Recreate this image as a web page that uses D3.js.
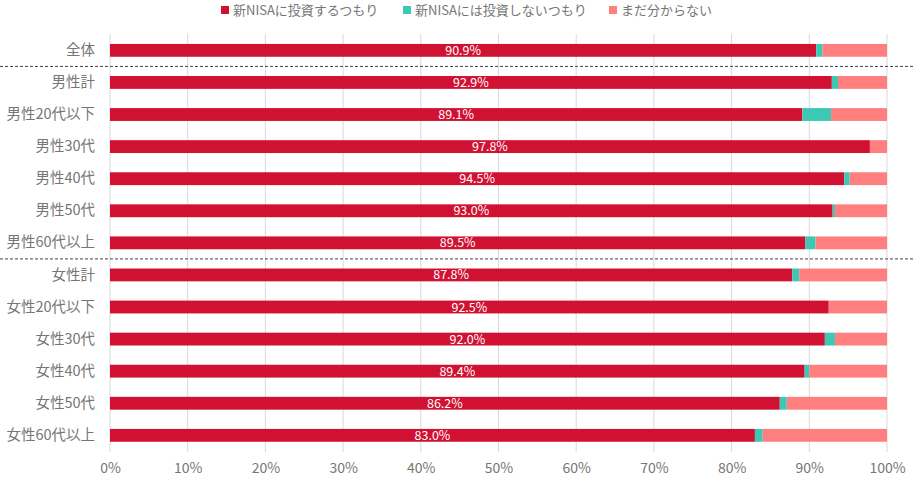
<!DOCTYPE html>
<html><head><meta charset="utf-8">
<script src="https://cdn.jsdelivr.net/npm/d3@7"></script>
<style>
html,body{margin:0;padding:0;background:#fff;}
svg{display:block;font-family:"Noto Sans CJK JP","Noto Sans",sans-serif;}
</style></head>
<body>
<svg id="chart" width="914" height="484"></svg>
<script>
const categories = ["全体","男性計","男性20代以下","男性30代","男性40代","男性50代","男性60代以上","女性計","女性20代以下","女性30代","女性40代","女性50代","女性60代以上"];
const invest =   [90.9, 92.9, 89.1, 97.8, 94.5, 93.0, 89.5, 87.8, 92.5, 92.0, 89.4, 86.2, 83.0];
const noInvest = [0.8, 0.8, 3.7, 0.0, 0.7, 0.3, 1.3, 0.9, 0.0, 1.3, 0.6, 0.9, 1.0];
const unknown = invest.map((v,i) => +(100 - v - noInvest[i]).toFixed(1));
const seriesNames = ["新NISAに投資するつもり","新NISAには投資しないつもり","まだ分からない"];
const colors = ["#D01132","#3CC8B4","#FF7F7F"];
const ticks = [0,10,20,30,40,50,60,70,80,90,100];
const separators = ["男性計","女性計"];

const svg = d3.select("#chart");
const W = 914, H = 484;
const x = d3.scaleLinear().domain([0,100]).range([110,887]);
const y = d3.scaleBand().domain(categories).range([34,451.7]).paddingInner(0.6).paddingOuter(0.31);

const rows = categories.map((c,i) => ({cat:c, invest:invest[i], noInvest:noInvest[i], unknown:unknown[i]}));
const stack = d3.stack().keys(["invest","noInvest","unknown"])(rows);

// gridlines
svg.append("g").selectAll("line").data(ticks).join("line")
  .attr("x1", d => x(d)).attr("x2", d => x(d))
  .attr("y1", 34).attr("y2", 452)
  .attr("stroke", "#d9d9d9").attr("stroke-width", 1);

// bars
svg.append("g").selectAll("g").data(stack).join("g")
  .attr("fill", (d,i) => colors[i])
  .selectAll("rect").data(d => d).join("rect")
  .attr("x", d => x(d[0]))
  .attr("width", d => x(d[1]) - x(d[0]))
  .attr("y", d => y(d.data.cat))
  .attr("height", y.bandwidth());

// data labels
svg.append("g").selectAll("text").data(rows).join("text")
  .attr("x", d => (x(0) + x(d.invest))/2)
  .attr("y", d => y(d.cat) + y.bandwidth()/2)
  .attr("dy", "0.36em")
  .attr("text-anchor", "middle")
  .attr("fill", "#fff")
  .attr("font-size", 12.5)
  .text(d => d.invest.toFixed(1) + "%");

// separators
svg.append("g").selectAll("line").data(separators).join("line")
  .attr("x1", 0).attr("x2", W)
  .attr("y1", d => y(d) - y.step()*y.paddingInner()/2)
  .attr("y2", d => y(d) - y.step()*y.paddingInner()/2)
  .attr("stroke", "#404040").attr("stroke-width", 1).attr("stroke-dasharray", "3,2");

// y axis labels
const yAxis = d3.axisLeft(y).tickSize(0).tickPadding(0);
const ya = svg.append("g").attr("transform", "translate(95,0)").call(yAxis);
ya.select(".domain").remove();
ya.selectAll("text").attr("font-size", 14.5).attr("fill", "#767676")
  .attr("font-family", '"Noto Sans CJK JP",sans-serif');

// x axis labels
const xAxis = d3.axisBottom(x).tickValues(ticks).tickSize(0).tickPadding(0).tickFormat(d => d + "%");
const xa = svg.append("g").attr("transform", "translate(0,463)").call(xAxis);
xa.select(".domain").remove();
xa.selectAll("text").attr("font-size", 14).attr("fill", "#767676")
  .attr("font-family", '"Noto Sans CJK JP",sans-serif');

// legend
const legendX = [221, 403, 609];
const lg = svg.append("g").selectAll("g").data(seriesNames).join("g")
  .attr("transform", (d,i) => `translate(${legendX[i]},10)`);
lg.append("rect").attr("x", 0).attr("y", -4).attr("width", 8).attr("height", 8)
  .attr("fill", (d,i) => colors[i]);
lg.append("text").attr("x", 12).attr("y", 0).attr("dy", "0.36em")
  .attr("font-size", 13).attr("fill", "#767676").text(d => d);
</script>
</body></html>
